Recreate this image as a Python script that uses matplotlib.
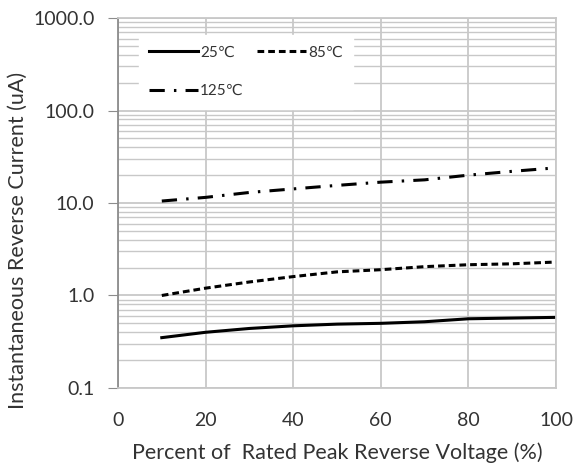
import matplotlib
matplotlib.use("Agg")
import matplotlib.pyplot as plt
from matplotlib.ticker import FixedLocator, LogLocator, NullFormatter

# percent of rated peak reverse voltage
voltage_pct = [10, 20, 30, 40, 50, 60, 70, 80, 90, 100]

# reverse current (uA)
current_25c = [0.35, 0.40, 0.44, 0.47, 0.49, 0.50, 0.52, 0.56, 0.57, 0.58]
current_85c = [1.0, 1.2, 1.4, 1.6, 1.8, 1.9, 2.05, 2.15, 2.2, 2.3]
current_125c = [10.5, 11.5, 13.0, 14.2, 15.5, 16.8, 17.8, 20.0, 22.0, 24.0]

y_ticks = [0.1, 1, 10, 100, 1000]
y_tick_labels = ["0.1", "1.0", "10.0", "100.0", "1000.0"]
x_ticks = [0, 20, 40, 60, 80, 100]

plt.rcParams["font.family"] = ["Lato", "DejaVu Sans"]
text_color = "#333333"
grid_color = "#c8c8c8"

fig = plt.figure(figsize=(5.75, 4.68), dpi=100)
ax = fig.add_axes([0.2052, 0.171, 0.7618, 0.7905])

l1, = ax.plot(voltage_pct, current_25c, color="black", lw=2.2, label="25\u2103")
l2, = ax.plot(voltage_pct, current_85c, color="black", lw=2.2, linestyle=(0, (2.2, 1.3)), label="85\u2103")
l3, = ax.plot(voltage_pct, current_125c, color="black", lw=2.2, linestyle=(0, (5, 3, 0.8, 3)), label="125\u2103")

ax.set_yscale("log")
ax.set_ylim(0.1, 1000)
ax.set_xlim(0, 100)

ax.yaxis.set_major_locator(FixedLocator(y_ticks))
ax.set_yticklabels(y_tick_labels)
ax.yaxis.set_minor_locator(LogLocator(base=10, subs=range(2, 10)))
ax.yaxis.set_minor_formatter(NullFormatter())
ax.set_xticks(x_ticks)

ax.grid(which="major", axis="both", color=grid_color, lw=1.3)
ax.grid(which="minor", axis="y", color=grid_color, lw=1.0)
ax.set_axisbelow(True)

for side in ["top", "right", "bottom"]:
    ax.spines[side].set_color(grid_color)
    ax.spines[side].set_linewidth(1.3)
ax.spines["left"].set_color("#8c8c8c")
ax.spines["left"].set_linewidth(1.3)

ax.tick_params(axis="y", which="major", length=7, color="#8c8c8c", labelsize=14, labelcolor=text_color, pad=10)
ax.tick_params(axis="y", which="minor", length=0)
ax.tick_params(axis="x", length=0, labelsize=14, labelcolor=text_color, pad=17)

ax.set_xlabel("Percent of  Rated Peak Reverse Voltage (%)", fontsize=15.5, color=text_color, labelpad=10)
ax.set_ylabel("Instantaneous Reverse Current (uA)", fontsize=15.5, color=text_color)
ax.yaxis.set_label_coords(-0.205, 0.40)

leg = ax.legend([l1, l3, l2], ["25\u2103", "125\u2103", "85\u2103"], ncol=2,
                loc="upper left", bbox_to_anchor=(0.03, 0.975), frameon=True,
                fancybox=False, edgecolor="white", facecolor="white", framealpha=1,
                fontsize=11, handlelength=3.2, handletextpad=0.1, columnspacing=0.9,
                labelspacing=1.6, borderpad=0.7)
for t in leg.get_texts():
    t.set_color(text_color)

fig.savefig("out.png", dpi=100, facecolor="white")
